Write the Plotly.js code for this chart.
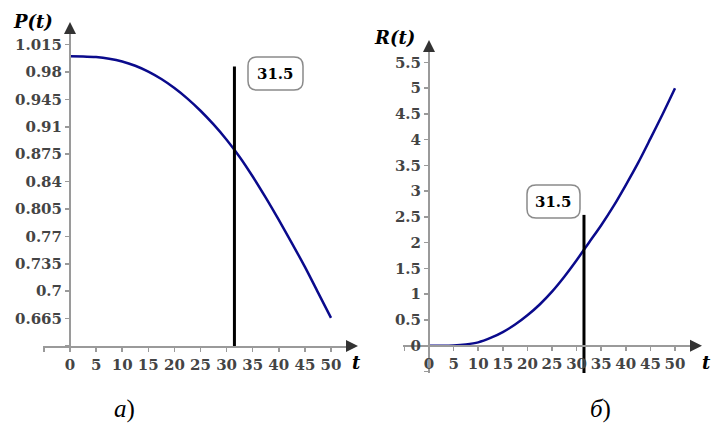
<!DOCTYPE html>
<html><head><meta charset="utf-8">
<script src="https://cdn.plot.ly/plotly-3.0.1.min.js"></script>
<style>html,body{margin:0;padding:0;background:#fff}</style>
</head><body><div id="chart" style="width:713px;height:428px"></div>
<script>
// ---- data ----
const tValues = [0, 2.5, 5, 7.5, 10, 12.5, 15, 17.5, 20, 22.5, 25, 27.5, 30, 32.5, 35, 37.5, 40, 42.5, 45, 47.5, 50];
const pValues = [1.000, 0.9998, 0.999, 0.997, 0.9935, 0.988, 0.9805, 0.971, 0.9595, 0.946, 0.9305, 0.913, 0.8935, 0.8715, 0.8465, 0.8195, 0.791, 0.7615, 0.731, 0.6985, 0.666];
const rValues = [0, 0, 0.005, 0.025, 0.065, 0.15, 0.265, 0.41, 0.59, 0.80, 1.05, 1.34, 1.66, 2.0, 2.34, 2.71, 3.12, 3.55, 4.02, 4.50, 5.0];
const markerT = 31.5;
const markerLabel = '31.5';
const pLineRange = [0.63, 0.987];
const rLineRange = [-0.53, 2.54];
const xTickVals = [-5, 0, 5, 10, 15, 20, 25, 30, 35, 40, 45, 50];
const xTickText = ['', '0', '5', '10', '15', '20', '25', '30', '35', '40', '45', '50'];
const pTickVals = [0.63, 0.665, 0.7, 0.735, 0.77, 0.805, 0.84, 0.875, 0.91, 0.945, 0.98, 1.015];
const pTickText = ['', '0.665', '0.7', '0.735', '0.77', '0.805', '0.84', '0.875', '0.91', '0.945', '0.98', '1.015'];
const rTickVals = [-0.5, 0, 0.5, 1, 1.5, 2, 2.5, 3, 3.5, 4, 4.5, 5, 5.5];
const rTickText = ['', '0', '0.5', '1', '1.5', '2', '2.5', '3', '3.5', '4', '4.5', '5', '5.5'];
const yTitles = ['P(t)', 'R(t)'];
const xTitle = 't';
const panelLabels = ['<i>а</i>)', '<i>б</i>)'];

// ---- geometry (pixels) ----
const W = 713, H = 428;
const fx = px => px / W;
const fy = py => 1 - py / H;

// left panel
const L = {ox: 70, oy: 346, sx: 5.22, sy: 782.9, y0: 0.63, xd: [43, 348], yd: [346, 30]};
// right panel
const R = {ox: 429, oy: 345.7, sx: 4.92, sy: 51.5, y0: 0, xd: [403, 692], yd: [373, 48]};

function xr(P) { return [(P.xd[0] - P.ox) / P.sx, (P.xd[1] - P.ox) / P.sx]; }
function yr(P) { return [P.y0 + (P.oy - P.yd[0]) / P.sy, P.y0 + (P.oy - P.yd[1]) / P.sy]; }

const tickFont = {family: 'DejaVu Serif', size: 15, color: '#444', weight: 'bold'};
const axCol = '#9a9a9a';

function axisBase(extra) {
  return Object.assign({
    showgrid: false, zeroline: false, showline: true, linecolor: axCol, linewidth: 2,
    ticks: 'outside', ticklen: 4, tickwidth: 1.5, tickcolor: axCol,
    tickfont: tickFont, fixedrange: true
  }, extra);
}
function overlayAxis(extra) {
  return Object.assign({
    showgrid: false, zeroline: false, showline: false, showticklabels: false,
    ticks: 'inside', ticklen: 4, tickwidth: 1.5, tickcolor: axCol, fixedrange: true
  }, extra);
}

const curveColor = '#0a0a8c';
const traces = [
  {x: tValues, y: pValues, xaxis: 'x', yaxis: 'y', mode: 'lines', line: {color: curveColor, width: 2.5, shape: 'spline', smoothing: 0.8}, hoverinfo: 'skip'},
  {x: [markerT, markerT], y: pLineRange, xaxis: 'x', yaxis: 'y', mode: 'lines', line: {color: '#000', width: 3}, hoverinfo: 'skip'},
  {x: tValues, y: rValues, xaxis: 'x2', yaxis: 'y2', mode: 'lines', line: {color: curveColor, width: 2.5, shape: 'spline', smoothing: 0.8}, hoverinfo: 'skip'},
  {x: [markerT, markerT], y: rLineRange, xaxis: 'x2', yaxis: 'y2', mode: 'lines', line: {color: '#000', width: 3}, hoverinfo: 'skip'}
];

function roundRect(x0, y0, x1, y1, r) {
  const X = v => fx(v).toFixed(5), Y = v => fy(v).toFixed(5);
  return 'M' + X(x0 + r) + ',' + Y(y0) + ' L' + X(x1 - r) + ',' + Y(y0) +
    ' Q' + X(x1) + ',' + Y(y0) + ' ' + X(x1) + ',' + Y(y0 + r) +
    ' L' + X(x1) + ',' + Y(y1 - r) +
    ' Q' + X(x1) + ',' + Y(y1) + ' ' + X(x1 - r) + ',' + Y(y1) +
    ' L' + X(x0 + r) + ',' + Y(y1) +
    ' Q' + X(x0) + ',' + Y(y1) + ' ' + X(x0) + ',' + Y(y1 - r) +
    ' L' + X(x0) + ',' + Y(y0 + r) +
    ' Q' + X(x0) + ',' + Y(y0) + ' ' + X(x0 + r) + ',' + Y(y0) + ' Z';
}
const boxes = [[248, 57, 303, 90], [527, 185, 580, 218]];
const shapes = boxes.map(b => ({type: 'path', xref: 'paper', yref: 'paper', path: roundRect(b[0], b[1], b[2], b[3], 9),
  line: {color: '#8a8a8a', width: 1.5}, fillcolor: '#fff', layer: 'above'}));

function arrow(tx, ty, ax, ay) {
  return {x: fx(tx), y: fy(ty), xref: 'paper', yref: 'paper', text: '', showarrow: true, ax: ax, ay: ay,
    arrowhead: 2, arrowsize: 1.2, arrowwidth: 2, arrowcolor: '#333', standoff: 0};
}
function label(text, px, py, font, xanchor) {
  return {x: fx(px), y: fy(py), xref: 'paper', yref: 'paper', text: text, showarrow: false,
    xanchor: xanchor || 'center', yanchor: 'middle', font: font};
}
const titleFont = {family: 'DejaVu Serif', size: 18, color: '#000', weight: 'bold', style: 'italic'};
const boxFont = {family: 'DejaVu Serif', size: 15, color: '#000', weight: 'bold'};
const capFont = {family: 'Liberation Serif', size: 25, color: '#000'};

const annotations = [
  arrow(358, L.oy, -12, 0), arrow(L.ox, 22, 0, 12),
  arrow(702, R.oy, -12, 0), arrow(R.ox, 40, 0, 12),
  label(yTitles[0], 33, 21, titleFont), label(yTitles[1], 394, 38, titleFont),
  label(xTitle, 350, 362, titleFont, 'left'), label(xTitle, 700, 362, titleFont, 'left'),
  label(markerLabel, (boxes[0][0] + boxes[0][2]) / 2, (boxes[0][1] + boxes[0][3]) / 2 + 0.5, boxFont),
  label(markerLabel, (boxes[1][0] + boxes[1][2]) / 2, (boxes[1][1] + boxes[1][3]) / 2 + 0.5, boxFont),
  label(panelLabels[0], 124, 409, capFont), label(panelLabels[1], 600, 409, capFont)
];

const layout = {
  width: W, height: H, margin: {l: 0, r: 0, t: 0, b: 0}, showlegend: false,
  paper_bgcolor: '#fff', plot_bgcolor: 'rgba(0,0,0,0)',
  xaxis: axisBase({domain: [fx(L.xd[0]), fx(L.xd[1])], range: xr(L), anchor: 'y', tickvals: xTickVals, ticktext: xTickText}),
  yaxis: axisBase({domain: [fy(L.yd[0]), fy(L.yd[1])], range: yr(L), anchor: 'free', position: fx(L.ox), tickvals: pTickVals, ticktext: pTickText}),
  xaxis2: axisBase({domain: [fx(R.xd[0]), fx(R.xd[1])], range: xr(R), anchor: 'free', position: fy(R.oy), tickvals: xTickVals, ticktext: xTickText}),
  yaxis2: axisBase({domain: [fy(R.yd[0]), fy(R.yd[1])], range: yr(R), anchor: 'free', position: fx(R.ox), tickvals: rTickVals, ticktext: rTickText}),
  xaxis3: overlayAxis({overlaying: 'x', anchor: 'y', range: xr(L), tickvals: xTickVals}),
  yaxis3: overlayAxis({overlaying: 'y', anchor: 'free', position: fx(L.ox), range: yr(L), tickvals: pTickVals}),
  xaxis4: overlayAxis({overlaying: 'x2', anchor: 'free', position: fy(R.oy), range: xr(R), tickvals: xTickVals}),
  yaxis4: overlayAxis({overlaying: 'y2', anchor: 'free', position: fx(R.ox), range: yr(R), tickvals: rTickVals}),
  shapes: shapes,
  annotations: annotations
};

Plotly.newPlot('chart', traces, layout, {displayModeBar: false, staticPlot: true});
</script>
</body></html>
